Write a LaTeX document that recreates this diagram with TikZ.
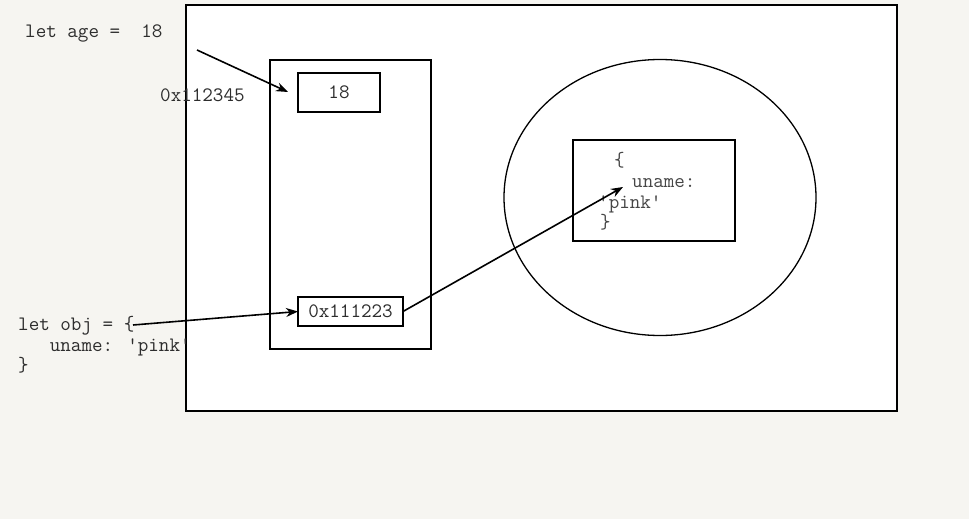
\documentclass[tikz,border=0pt]{standalone}
\usepackage{tikz}
\usetikzlibrary{arrows.meta,positioning,shapes.geometric}
\definecolor{PageGray}{RGB}{246,245,241}
\definecolor{CodeGray}{RGB}{45,45,45}
\definecolor{HeapGray}{RGB}{70,70,70}
\begin{document}
\begin{tikzpicture}[
    x=1pt, y=-1pt,
    cell/.style={draw, line width=1.3pt, inner sep=0pt, outer sep=0pt},
    code/.style={font=\fontsize{20.5}{24}\selectfont\ttfamily, text=CodeGray, inner sep=0pt},
    heapcode/.style={code, text=HeapGray},
    arr/.style={-{Stealth[length=12pt, width=9pt]}, line width=1.6pt}
]
% page
\fill[PageGray] (0,0) rectangle (969,519);
\useasboundingbox (0,0) rectangle (969,519);
\node[cell, fill=white, minimum width=711pt, minimum height=406pt] (mem) at (541.5,208) {};

% stack
\node[cell, minimum width=161pt, minimum height=289pt] (stack) at (350.5,204.5) {};
\node[cell, minimum width=82pt, minimum height=39pt, code] (age) at (339,92.5) {18};
\node[cell, minimum width=105pt, minimum height=29pt, code] (addr) at (350.5,311.5) {0x111223};

% heap
\node[draw, line width=1.3pt, ellipse, minimum width=312pt, minimum height=276pt, inner sep=0pt] (heap) at (660,197.5) {};
\node[cell, minimum width=162pt, minimum height=101pt] (objbox) at (654,190.5) {};
\node[heapcode, anchor=base west] (h1) at (614,166) {\{};
\node[heapcode, anchor=base west] (h2) at (632,187) {uname:};
\node[heapcode, anchor=base west] (h3) at (598,208) {'pink'};
\node[heapcode, anchor=base west] (h4) at (600,228) {\}};

% code
\node[code, anchor=base west] (letage) at (25,38) {let age =\ \ 18};
\node[code, anchor=base west] (stackaddr) at (160,101) {0x112345};
\node[code, anchor=base west] (letobj) at (18,330) {let obj = \{};
\node[code, anchor=base west] (uname) at (18,351) {\ \ \ uname: 'pink'};
\node[code, anchor=base west] (close) at (18,371) {\}};

% arrows
\coordinate (agefrom) at (197,50);
\coordinate (ageto) at (288,92);
\coordinate (objfrom) at (133,325);
\coordinate (heapto) at (623,187);
\draw[arr] (agefrom) -- (ageto);
\draw[arr] (objfrom) -- (addr.west);
\draw[arr] (addr.east) -- (heapto);
\end{tikzpicture}
\end{document}
